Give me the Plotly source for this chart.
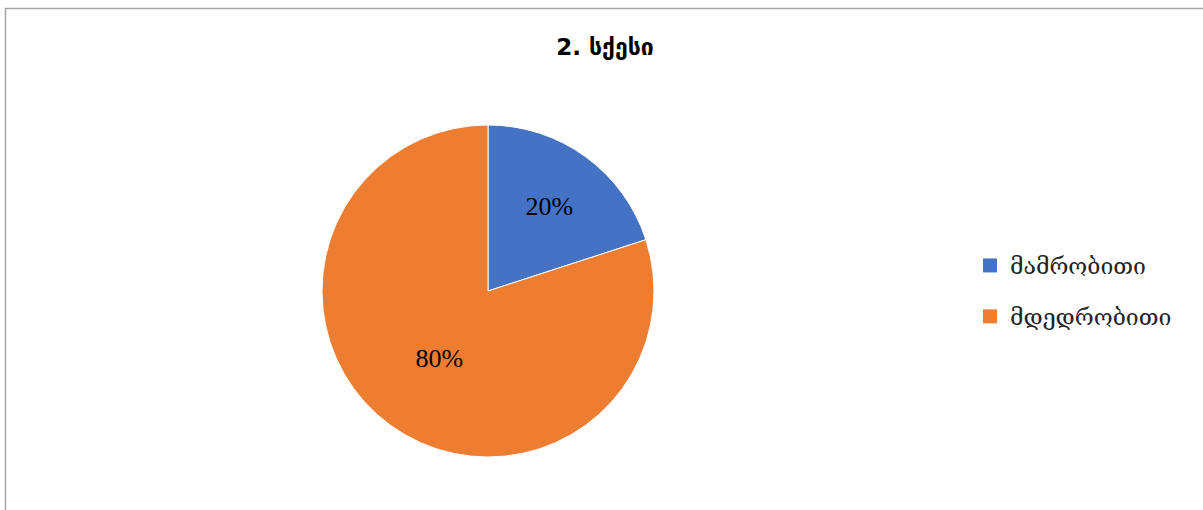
import plotly.graph_objects as go

title_text = "2. სქესი"
labels = ["მამრობითი", "მდედრობითი"]
values = [20, 80]
colors = ["#4472C4", "#ED7D31"]

W, H = 1203, 510
cx, cy, r = 488, 291, 166

fig = go.Figure()
fig.add_trace(go.Pie(
    labels=labels, values=values, sort=False, direction="clockwise", rotation=0,
    marker=dict(colors=colors, line=dict(color="white", width=1)),
    textinfo="percent", texttemplate="%{percent:.0%}", textposition="inside",
    insidetextorientation="horizontal",
    textfont=dict(family="Liberation Serif", size=26, color="black"),
    domain=dict(x=[(cx - r) / W, (cx + r) / W], y=[1 - (cy + r) / H, 1 - (cy - r) / H]),
    showlegend=False, hoverinfo="label+percent",
))
for i, (lab, col) in enumerate(zip(labels, colors)):
    fig.add_trace(go.Scatter(
        x=[None], y=[None], mode="markers", name=lab, legendgroup=f"g{i}",
        marker=dict(symbol="square", size=14, color=col),
    ))

fig.update_layout(
    width=W, height=H, margin=dict(l=0, r=0, t=0, b=0),
    paper_bgcolor="white", plot_bgcolor="white",
    title=dict(text=f"<b>{title_text}</b>", x=605 / W, xanchor="center", y=1 - 47 / H, yanchor="middle",
               font=dict(family="DejaVu Sans", size=23, color="black")),
    xaxis=dict(visible=False), yaxis=dict(visible=False),
    legend=dict(x=970 / W, xanchor="left", y=1 - 291 / H, yanchor="middle",
                font=dict(family="DejaVu Serif", size=23, color="#222"),
                tracegroupgap=18, traceorder="grouped", itemclick=False),
    shapes=[dict(type="rect", xref="paper", yref="paper", x0=5.5 / W, x1=1.02, y0=-0.02, y1=1 - 8.5 / H,
                 line=dict(color="#A6A6A6", width=1.5), fillcolor="rgba(0,0,0,0)")],
)
fig.write_html("out.html")
